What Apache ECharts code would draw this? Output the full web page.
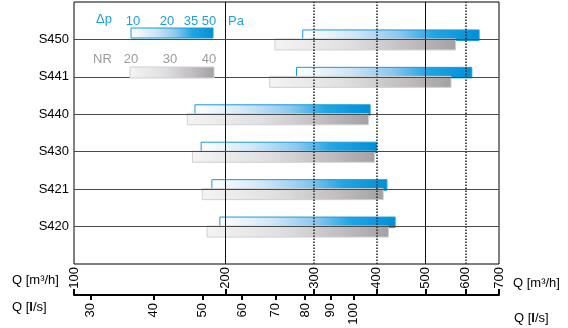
<!DOCTYPE html>
<html><head><meta charset="utf-8">
<script src="https://cdn.jsdelivr.net/npm/echarts@6/dist/echarts.min.js"></script>
<style>html,body{margin:0;padding:0;background:#fff}#c{width:568px;height:328px}</style>
</head><body><div id="c"></div>
<script>
// ---- data ----
const models = ['S420', 'S421', 'S430', 'S440', 'S441', 'S450'];
const pressureStart = [195, 188, 179, 174, 277, 285];   // Δp bar start, m³/h
const pressureEnd   = [435, 419, 400, 388, 618, 639];   // Δp bar end, m³/h
const noiseStart    = [184, 180, 172, 168, 245, 251];   // NR bar start, m³/h
const noiseEnd      = [422, 412, 396, 385, 562, 574];   // NR bar end, m³/h
const flowTicksM3h  = [100, 200, 300, 400, 500, 600, 700];
const flowTicksLs   = [30, 40, 50, 60, 70, 80, 90, 100];
const solidGrid     = [200, 500];
const dottedGrid    = [300, 400, 600];
const dpLegend      = ['10', '20', '35', '50'];
const nrLegend      = ['20', '30', '40'];
const M3H_PER_LS = 3.6;

// ---- styles / positions ----
const FONT = "'Liberation Sans', Arial, sans-serif";
const NARROW = "'Liberation Sans Narrow', 'Liberation Sans', Arial, sans-serif";
const BLUE_TXT = '#1e9fe0';
const GRAY_TXT = '#9b9b9b';
const dpLegendX = [133, 167, 191, 209];
const nrLegendX = [131, 170, 209];

const categories = [''].concat(models, ['']);

function blueGrad() {
  return new echarts.graphic.LinearGradient(0, 0, 1, 0, [
    {offset: 0, color: '#ffffff'},
    {offset: 0.3, color: '#cfe6f7'},
    {offset: 0.55, color: '#8ac7ee'},
    {offset: 0.74, color: '#22a6e4'},
    {offset: 1, color: '#008fd5'}
  ]);
}
function grayGrad() {
  return new echarts.graphic.LinearGradient(0, 0, 1, 0, [
    {offset: 0, color: '#f4f4f4'},
    {offset: 0.4, color: '#e0e0e2'},
    {offset: 0.75, color: '#c0bcc0'},
    {offset: 1, color: '#a3a1a3'}
  ]);
}

const chart = echarts.init(document.getElementById('c'), null, {renderer: 'canvas'});

const labelFont = {fontFamily: NARROW, fontSize: 13, color: '#000'};

const graphic = [];
graphic.push({type: 'text', left: 96, top: 13, style: {text: 'Δp', font: '13px ' + FONT, fill: BLUE_TXT}});
dpLegend.forEach((t, i) => graphic.push({type: 'text', x: dpLegendX[i], y: 21,
  style: {text: t, font: '13px ' + FONT, fill: BLUE_TXT, align: 'center', verticalAlign: 'middle'}}));
graphic.push({type: 'text', x: 228, y: 21, style: {text: 'Pa', font: '13px ' + FONT, fill: BLUE_TXT, verticalAlign: 'middle'}});
graphic.push({type: 'rect', shape: {x: 131, y: 28, width: 82, height: 10},
  style: {fill: blueGrad(), stroke: '#1b9ad8', lineWidth: 1}, z: 10});
graphic.push({type: 'text', x: 93, y: 59, style: {text: 'NR', font: '13px ' + FONT, fill: GRAY_TXT, verticalAlign: 'middle'}});
nrLegend.forEach((t, i) => graphic.push({type: 'text', x: nrLegendX[i], y: 59,
  style: {text: t, font: '13px ' + FONT, fill: GRAY_TXT, align: 'center', verticalAlign: 'middle'}}));
graphic.push({type: 'rect', shape: {x: 130, y: 67, width: 84, height: 11},
  style: {fill: grayGrad(), stroke: '#cfcfcf', lineWidth: 1}, z: 10});
// axis names
graphic.push({type: 'text', x: 12, y: 280, style: {text: 'Q [m³/h]', font: '13px ' + FONT, fill: '#000', verticalAlign: 'middle'}});
graphic.push({type: 'text', x: 12, y: 307, style: {text: '{n|Q [}{b|l}{n|/s]}', verticalAlign: 'middle',
  rich: {n: {fontFamily: FONT, fontSize: 13, color: '#000'}, b: {fontFamily: FONT, fontSize: 13, fontWeight: 'bold', color: '#000'}}}});
graphic.push({type: 'text', x: 513, y: 283, style: {text: 'Q [m³/h]', font: '13px ' + FONT, fill: '#000', verticalAlign: 'middle'}});
graphic.push({type: 'text', x: 514, y: 318, style: {text: '{n|Q [}{b|l}{n|/s]}', verticalAlign: 'middle',
  rich: {n: {fontFamily: FONT, fontSize: 13, color: '#000'}, b: {fontFamily: FONT, fontSize: 13, fontWeight: 'bold', color: '#000'}}}});

function barRenderer(dy, h, gradFn, stroke) {
  return function (params, api) {
    const cat = api.value(0);
    const a = api.coord([api.value(1), cat]);
    const b = api.coord([api.value(2), cat]);
    return {type: 'rect', shape: {x: a[0], y: a[1] + dy, width: b[0] - a[0], height: h},
      style: {fill: gradFn(), stroke: stroke, lineWidth: 1}};
  };
}

const markData = []
  .concat(solidGrid.map(v => ({xAxis: v, lineStyle: {type: 'solid', color: '#111', width: 1}})))
  .concat(dottedGrid.map(v => ({xAxis: v, lineStyle: {type: [1.5, 1.5], color: '#222', width: 1.5}})))
  .concat(models.map(m => ({yAxis: m, lineStyle: {type: 'solid', color: '#4a4a4a', width: 1}})));

chart.setOption({
  animation: false,
  grid: {left: 74, right: 69, top: 2, bottom: 64, show: true, borderColor: '#000', borderWidth: 1, backgroundColor: 'transparent'},
  xAxis: [
    {type: 'log', logBase: 10, min: 100, max: 700, position: 'bottom', offset: 0,
      axisLine: {show: false}, axisTick: {show: false}, splitLine: {show: false}, minorTick: {show: false},
      axisLabel: Object.assign({customValues: flowTicksM3h, rotate: 90, margin: 3}, labelFont)},
    {type: 'log', logBase: 10, min: 100, max: 700, position: 'bottom', offset: 31,
      axisLine: {show: true, onZero: false, lineStyle: {color: '#000', width: 2}},
      axisTick: {show: true, inside: true, length: 6, customValues: flowTicksM3h, lineStyle: {color: '#000', width: 2}},
      axisLabel: {show: false}, splitLine: {show: false}},
    {type: 'log', logBase: 10, min: 100 / M3H_PER_LS, max: 700 / M3H_PER_LS, position: 'bottom', offset: 31,
      axisLine: {show: false},
      axisTick: {show: true, inside: false, length: 5, customValues: flowTicksLs, lineStyle: {color: '#000', width: 2}},
      axisLabel: Object.assign({customValues: flowTicksLs, rotate: 90, margin: 8}, labelFont),
      splitLine: {show: false}}
  ],
  yAxis: {type: 'category', data: categories, boundaryGap: false,
    axisLine: {show: false}, axisTick: {show: false}, splitLine: {show: false},
    axisLabel: {fontFamily: FONT, fontSize: 13, color: '#000', margin: 5, padding: [4, 0, 0, 0]}},
  graphic: graphic,
  series: [
    {type: 'line', data: [], z: 1, silent: true,
      markLine: {symbol: ['none', 'none'], silent: true, label: {show: false}, data: markData}},
    {type: 'custom', z: 3, encode: {x: [1, 2], y: 0},
      renderItem: barRenderer(-9.5, 10.5, blueGrad, '#1b9ad8'),
      data: models.map((m, i) => [m, pressureStart[i], pressureEnd[i]])},
    {type: 'custom', z: 4, encode: {x: [1, 2], y: 0},
      renderItem: barRenderer(-0.5, 11, grayGrad, '#d0d0d0'),
      data: models.map((m, i) => [m, noiseStart[i], noiseEnd[i]])}
  ]
});
</script></body></html>
